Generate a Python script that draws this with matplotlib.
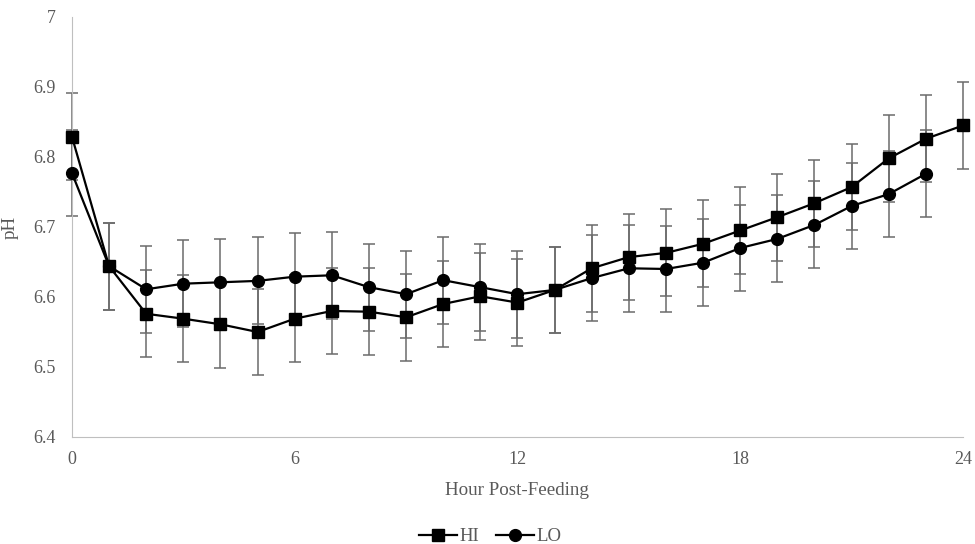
import matplotlib
matplotlib.use("Agg")
import matplotlib.pyplot as plt

hours_hi = list(range(0, 25))
hours_lo = list(range(0, 24))
hi = [6.829, 6.644, 6.576, 6.569, 6.561, 6.550, 6.569, 6.580, 6.579, 6.571,
      6.590, 6.601, 6.592, 6.610, 6.641, 6.657, 6.663, 6.676, 6.695, 6.714,
      6.734, 6.757, 6.798, 6.826, 6.845]
lo = [6.777, 6.644, 6.611, 6.619, 6.621, 6.623, 6.629, 6.631, 6.614, 6.604,
      6.624, 6.614, 6.604, 6.610, 6.627, 6.641, 6.640, 6.649, 6.670, 6.683,
      6.703, 6.730, 6.747, 6.776]
hi_err = [0.062] * 25
lo_err = [0.062] * 24

plt.rcParams['font.family'] = ['Liberation Serif', 'DejaVu Serif']

fig = plt.figure(figsize=(9.75, 5.44), dpi=100)
ax = fig.add_axes([0.0738, 0.1967, 0.9139, 0.7721])

ecol = '#6b6b6b'
ax.errorbar(hours_hi, hi, yerr=hi_err, fmt='none', ecolor=ecol, elinewidth=1.1,
            capsize=4.3, capthick=1.1, zorder=2, clip_on=False)
ax.errorbar(hours_lo, lo, yerr=lo_err, fmt='none', ecolor=ecol, elinewidth=1.1,
            capsize=4.3, capthick=1.1, zorder=2, clip_on=False)
l1, = ax.plot(hours_hi, hi, color='black', lw=1.6, marker='s', markersize=8.5,
              zorder=3, clip_on=False, label='HI')
l2, = ax.plot(hours_lo, lo, color='black', lw=1.6, marker='o', markersize=8.5,
              zorder=3, clip_on=False, label='LO')

ax.set_xlim(0, 24)
ax.set_ylim(6.4, 7.0)
ax.set_xticks([0, 6, 12, 18, 24])
ax.set_yticks([6.4, 6.5, 6.6, 6.7, 6.8, 6.9, 7.0])
ax.set_yticklabels(['6.4', '6.5', '6.6', '6.7', '6.8', '6.9', '7'])
for s in ['top', 'right']:
    ax.spines[s].set_visible(False)
ax.spines['left'].set_color('#bfbfbf')
ax.spines['bottom'].set_color('#bfbfbf')
ax.tick_params(axis='both', length=0, labelsize=13, colors='#595959')
ax.tick_params(axis='y', pad=11.5)
ax.tick_params(axis='x', pad=10)

ax.set_xlabel('Hour Post-Feeding', fontsize=13.7, color='#595959', labelpad=10)
ax.set_ylabel('pH', fontsize=13.7, color='#595959', labelpad=11)

fig.legend(handles=[l1, l2], loc='lower center', bbox_to_anchor=(0.503, -0.033),
           ncol=2, frameon=False, fontsize=13.5, handlelength=2.0,
           columnspacing=0.9, handletextpad=0.15, labelcolor='#595959')

fig.savefig('out.png', dpi=100)
